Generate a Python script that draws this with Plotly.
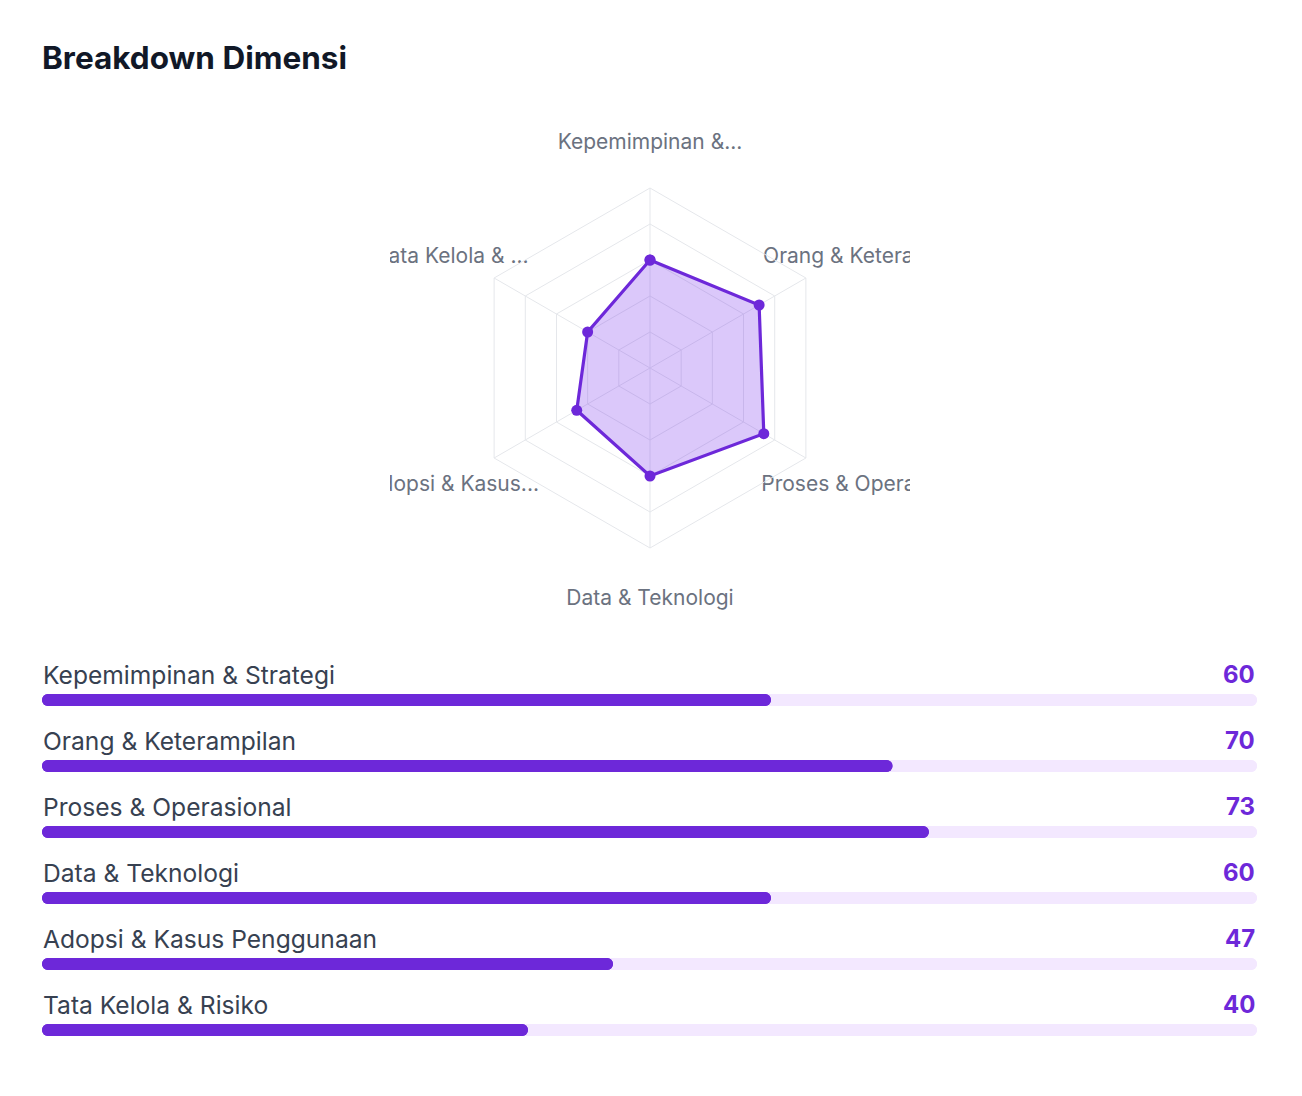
import math

import plotly.graph_objects as go

W, H = 1302, 1096
PAGE_PAD = 8  # the html body margin pushes the plot in by this much

# data
DIMENSI = [
    "Kepemimpinan & Strategi",
    "Orang & Keterampilan",
    "Proses & Operasional",
    "Data & Teknologi",
    "Adopsi & Kasus Penggunaan",
    "Tata Kelola & Risiko",
]
SKOR = [60, 70, 73, 60, 47, 40]
SKOR_MAKS = 100
GRID_STEP = 20

PURPLE = "#6d28d9"
TRACK = "#f3e8ff"
GRID = "#e5e7eb"
FONT = "Inter, 'Noto Sans', sans-serif"


def px_x(p):
    return (p - PAGE_PAD) / W


def px_y(p):
    return 1 - (p - PAGE_PAD) / H


def short_label(name, limit=16, keep=14):
    """Radar tick labels get cut like the web widget does."""
    return name if len(name) <= limit else name[:keep] + "..."


n = len(DIMENSI)
rows = list(range(n))

fig = go.Figure()

# radar
fig.add_trace(
    go.Scatterpolar(
        r=SKOR + SKOR[:1],
        theta=DIMENSI + DIMENSI[:1],
        mode="lines+markers",
        fill="toself",
        fillcolor="rgba(124,58,237,0.28)",
        line=dict(color=PURPLE, width=3.2),
        marker=dict(color=PURPLE, size=11),
        hoverinfo="skip",
        showlegend=False,
    )
)

# radar labels, on their own axis so they get clipped at the box edge
label_r = 228
angles = [i * 2 * math.pi / n for i in range(n)]
fig.add_trace(
    go.Scatter(
        x=[label_r * math.sin(a) for a in angles],
        y=[label_r * math.cos(a) for a in angles],
        text=[short_label(d) for d in DIMENSI],
        mode="text",
        textposition="middle center",
        textfont=dict(family=FONT, size=21, color="#6b7280"),
        cliponaxis=True,
        hoverinfo="skip",
        showlegend=False,
        xaxis="x2",
        yaxis="y2",
    )
)

# progress bars: two halves each so both ends get rounded
bar_w = 12 / 66
for color, lengths in [(TRACK, [SKOR_MAKS] * n), (PURPLE, SKOR)]:
    fig.add_trace(
        go.Bar(
            x=lengths, y=rows, base=[0] * n, orientation="h", width=bar_w,
            marker=dict(color=color, cornerradius="50%", line_width=0),
            hoverinfo="skip", showlegend=False,
        )
    )
    fig.add_trace(
        go.Bar(
            x=[-v for v in lengths], y=rows, base=lengths, orientation="h", width=bar_w,
            marker=dict(color=color, cornerradius="50%", line_width=0),
            hoverinfo="skip", showlegend=False,
        )
    )

for i, (name, val) in enumerate(zip(DIMENSI, SKOR)):
    fig.add_annotation(
        x=0, y=i, xref="x", yref="y", text=name, showarrow=False,
        xanchor="left", yanchor="middle", yshift=25, xshift=-1,
        font=dict(family=FONT, size=24.6, color="#374151"),
    )
    fig.add_annotation(
        x=SKOR_MAKS, y=i, xref="x", yref="y", text=f"<b>{val}</b>", showarrow=False,
        xanchor="right", yanchor="middle", yshift=25,
        font=dict(family=FONT, size=24, color=PURPLE),
    )

fig.update_layout(
    width=W,
    height=H,
    margin=dict(l=0, r=0, t=0, b=0),
    paper_bgcolor="white",
    plot_bgcolor="rgba(0,0,0,0)",
    barmode="overlay",
    title=dict(
        text="<b>Breakdown Dimensi</b>",
        x=px_x(42), xanchor="left", xref="paper",
        y=px_y(58), yanchor="middle", yref="paper",
        font=dict(family=FONT, size=31.5, color="#111827"),
    ),
    polar=dict(
        domain=dict(x=[px_x(470), px_x(830)], y=[px_y(548), px_y(188)]),
        bgcolor="rgba(0,0,0,0)",
        gridshape="linear",
        radialaxis=dict(
            range=[0, SKOR_MAKS], dtick=GRID_STEP, showticklabels=False, ticks="",
            showline=False, gridcolor=GRID, gridwidth=1,
        ),
        angularaxis=dict(
            rotation=90, direction="clockwise", showticklabels=False, ticks="",
            linecolor=GRID, linewidth=1, gridcolor=GRID, gridwidth=1,
        ),
    ),
    xaxis=dict(domain=[px_x(42), px_x(1257)], range=[0, SKOR_MAKS], visible=False, fixedrange=True),
    yaxis=dict(domain=[px_y(1063), px_y(667)], range=[n - 0.5, -0.5], visible=False, fixedrange=True),
    xaxis2=dict(domain=[px_x(390), px_x(910)], range=[-260, 260], anchor="y2", visible=False, fixedrange=True),
    yaxis2=dict(domain=[px_y(620), px_y(120)], range=[-248, 252], anchor="x2", visible=False, fixedrange=True),
)

fig.write_html("out.html")
